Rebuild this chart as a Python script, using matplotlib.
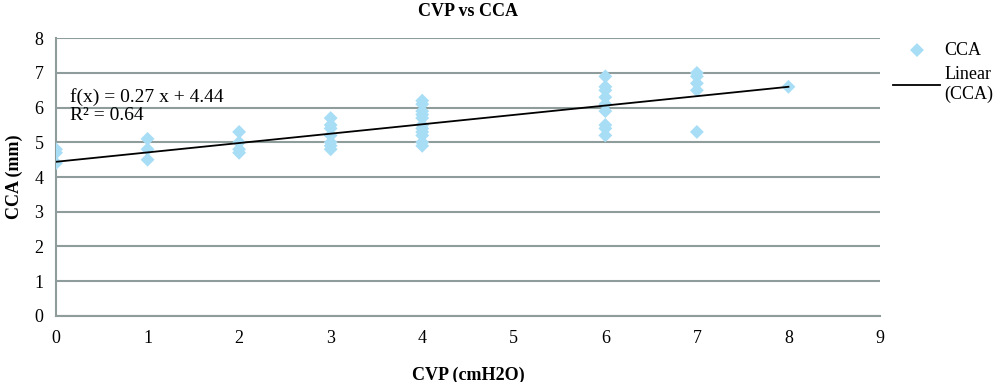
"""CVP vs CCA scatter with linear trend line."""

import matplotlib.pyplot as plt
import numpy as np

# CVP (cmH2O) groups and the CCA (mm) readings at each
cvp_levels = [0, 1, 2, 3, 4, 6, 7, 8]
cca_values = [
    [4.8, 4.7, 4.4],
    [5.1, 4.8, 4.5],
    [5.3, 5.0, 4.8, 4.7],
    [5.7, 5.5, 5.4, 5.2, 5.0, 4.9, 4.8],
    [6.2, 6.1, 5.9, 5.8, 5.7, 5.5, 5.4, 5.3, 5.2, 5.0, 4.9],
    [6.9, 6.6, 6.5, 6.3, 6.1, 5.9, 5.5, 5.4, 5.2],
    [7.0, 6.9, 6.7, 6.5, 5.3],
    [6.6],
]
slope = 0.27
intercept = 4.44
r_squared = 0.64
x_ticks = list(range(0, 10))
y_ticks = list(range(0, 9))

plt.rcParams["font.family"] = ["Liberation Serif", "DejaVu Serif"]

x = np.concatenate([[c] * len(v) for c, v in zip(cvp_levels, cca_values)])
y = np.concatenate(cca_values)

fig = plt.figure(figsize=(10, 3.82), dpi=100)
ax = fig.add_axes([0.056, 0.173, 0.824, 0.727])

grid_col = "#8f9c9c"
ax.scatter(x, y, marker="D", s=50, color="#a8ddf6", edgecolors="none",
           zorder=3, label="CCA")
x_line = np.array([min(cvp_levels), max(cvp_levels)])
ax.plot(x_line, slope * x_line + intercept, color="black", linewidth=1.3,
        zorder=4, label="Linear\n(CCA)")

ax.set_xlim(0, 9)
ax.set_ylim(0, 8)
ax.set_xticks(x_ticks)
ax.set_yticks(y_ticks)
ax.tick_params(length=0, labelsize=13)
ax.tick_params(axis="x", pad=10)
ax.tick_params(axis="y", pad=9)
ax.yaxis.grid(True, color=grid_col, linewidth=1.5)
ax.set_axisbelow(True)
for side in ("top", "right"):
    ax.spines[side].set_visible(False)
for side in ("left", "bottom"):
    ax.spines[side].set_color(grid_col)
    ax.spines[side].set_linewidth(1.5)

ax.set_title("CVP vs CCA", fontsize=13, fontweight="bold", pad=16)
ax.set_xlabel("CVP (cmH2O)", fontsize=13, fontweight="bold", labelpad=14)
ax.set_ylabel("CCA (mm)", fontsize=13, fontweight="bold", labelpad=8)

ax.text(0.15, 6.3, f"f(x) = {slope:.2f} x + {intercept:.2f}", fontsize=14,
        va="center")
ax.text(0.15, 5.78, f"R² = {r_squared:.2f}", fontsize=14, va="center")

ax.legend(loc="upper left", bbox_to_anchor=(1.012, 1.0), frameon=False,
          fontsize=13, handlelength=2.6, handletextpad=0.2, labelspacing=0.4,
          borderaxespad=0.0, borderpad=0.2)

fig.savefig("out.png", dpi=100)
